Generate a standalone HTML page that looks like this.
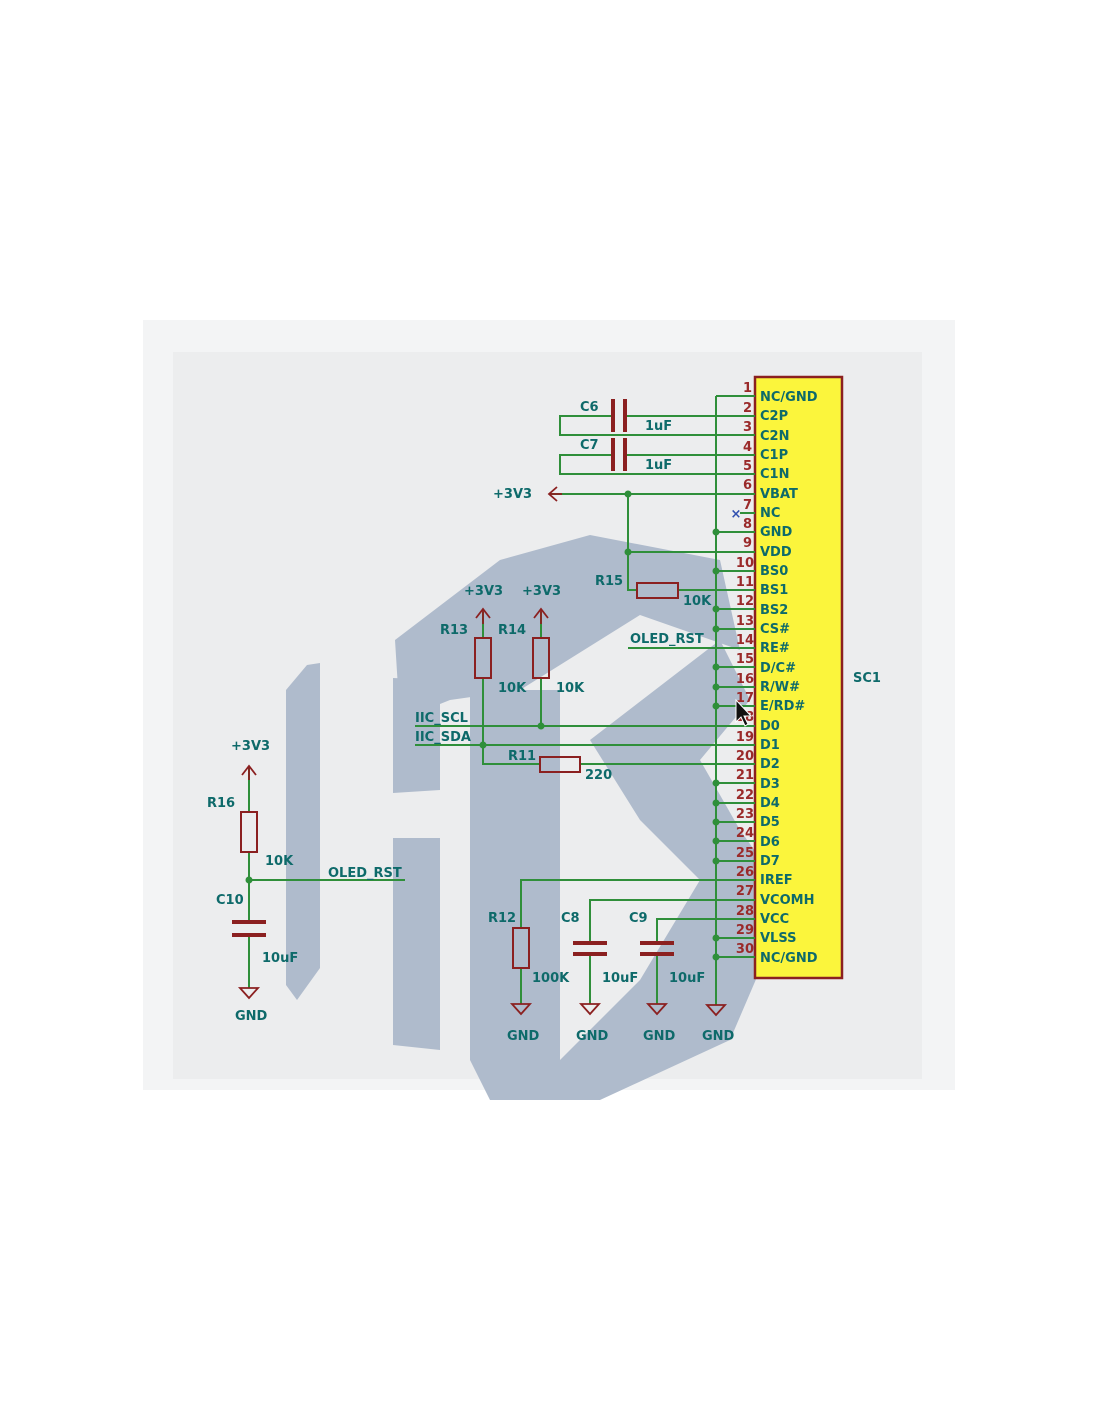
<!DOCTYPE html>
<html><head><style>
html,body{margin:0;padding:0;background:#fff;}
svg{display:block;}
text{font-family:"DejaVu Sans","Liberation Sans",sans-serif;font-size:13px;font-weight:bold;}
</style></head><body>
<svg width="1100" height="1422" viewBox="0 0 1100 1422" xmlns="http://www.w3.org/2000/svg">
<rect x="143" y="320" width="812" height="770" fill="#f3f4f5"/>
<rect x="173" y="352" width="749" height="727" fill="#ecedee"/>
<!-- watermark -->
<g fill="#afbbcc">
<polygon points="307,665 320,663 320,968 297,1000 286,985 286,690"/>
<polygon points="393,678 440,680 440,790 393,793"/>
<polygon points="393,838 440,838 440,1050 393,1045"/>
<polygon points="395,640 500,560 590,535 720,560 740,650 640,615 600,640 520,690 450,700 400,720"/>
<polygon points="470,690 560,690 560,1100 490,1100 470,1060"/>
<polygon points="590,740 720,640 750,700 700,760 740,830 790,900 730,1040 600,1100 520,1100 640,980 700,880 640,820"/>
</g>
<!-- IC body -->
<rect x="755" y="377" width="87" height="601" fill="#fbf53c" stroke="#8b2020" stroke-width="2.5"/>
<g stroke="#2f8f3a" stroke-width="2" fill="none">
<line x1="716" y1="396" x2="755" y2="396"/>
<line x1="716" y1="396" x2="716" y2="1005"/>
<line x1="716" y1="532" x2="755" y2="532"/>
<line x1="716" y1="571" x2="755" y2="571"/>
<line x1="716" y1="609" x2="755" y2="609"/>
<line x1="716" y1="629" x2="755" y2="629"/>
<line x1="716" y1="667" x2="755" y2="667"/>
<line x1="716" y1="687" x2="755" y2="687"/>
<line x1="716" y1="706" x2="755" y2="706"/>
<line x1="716" y1="783" x2="755" y2="783"/>
<line x1="716" y1="803" x2="755" y2="803"/>
<line x1="716" y1="822" x2="755" y2="822"/>
<line x1="716" y1="841" x2="755" y2="841"/>
<line x1="716" y1="861" x2="755" y2="861"/>
<line x1="716" y1="938" x2="755" y2="938"/>
<line x1="716" y1="957" x2="755" y2="957"/>
<line x1="740" y1="513" x2="755" y2="513"/>
<polyline points="612,416 560,416 560,435 755,435"/>
<line x1="624" y1="416" x2="755" y2="416"/>
<polyline points="612,455 560,455 560,474 755,474"/>
<line x1="624" y1="455" x2="755" y2="455"/>
<line x1="550" y1="494" x2="755" y2="494"/>
<polyline points="628,494 628,590 637,590"/>
<line x1="628" y1="552" x2="755" y2="552"/>
<line x1="678" y1="590" x2="755" y2="590"/>
<line x1="628" y1="648" x2="755" y2="648"/>
<line x1="415" y1="726" x2="755" y2="726"/>
<line x1="415" y1="745" x2="755" y2="745"/>
<line x1="541" y1="612" x2="541" y2="638"/>
<line x1="541" y1="678" x2="541" y2="726"/>
<line x1="483" y1="612" x2="483" y2="638"/>
<polyline points="483,678 483,764 540,764"/>
<line x1="580" y1="764" x2="755" y2="764"/>
<line x1="249" y1="768" x2="249" y2="812"/>
<line x1="249" y1="852" x2="249" y2="922"/>
<line x1="249" y1="935" x2="249" y2="988"/>
<line x1="249" y1="880" x2="405" y2="880"/>
<polyline points="755,880 521,880 521,928"/>
<line x1="521" y1="968" x2="521" y2="1004"/>
<polyline points="755,900 590,900 590,943"/>
<line x1="590" y1="954" x2="590" y2="1004"/>
<polyline points="755,919 657,919 657,943"/>
<line x1="657" y1="954" x2="657" y2="1004"/>
</g>
<g fill="#2f8f3a">
<circle cx="628" cy="494" r="3.5"/><circle cx="628" cy="552" r="3.5"/>
<circle cx="716" cy="532" r="3.5"/><circle cx="716" cy="571" r="3.5"/><circle cx="716" cy="609" r="3.5"/><circle cx="716" cy="629" r="3.5"/>
<circle cx="716" cy="667" r="3.5"/><circle cx="716" cy="687" r="3.5"/><circle cx="716" cy="706" r="3.5"/>
<circle cx="716" cy="783" r="3.5"/><circle cx="716" cy="803" r="3.5"/><circle cx="716" cy="822" r="3.5"/><circle cx="716" cy="841" r="3.5"/><circle cx="716" cy="861" r="3.5"/>
<circle cx="716" cy="938" r="3.5"/><circle cx="716" cy="957" r="3.5"/>
<circle cx="541" cy="726" r="3.5"/><circle cx="483" cy="745" r="3.5"/><circle cx="249" cy="880" r="3.5"/>
</g>
<g stroke="#8b2020" stroke-width="2" fill="none">
<rect x="637" y="583" width="41" height="15"/>
<rect x="540" y="757" width="40" height="15"/>
<rect x="475" y="638" width="16" height="40"/>
<rect x="533" y="638" width="16" height="40"/>
<rect x="241" y="812" width="16" height="40"/>
<rect x="513" y="928" width="16" height="40"/>
</g>
<g stroke="#8b2020" stroke-width="4">
<line x1="613" y1="399" x2="613" y2="432"/><line x1="625" y1="399" x2="625" y2="432"/>
<line x1="613" y1="438" x2="613" y2="471"/><line x1="625" y1="438" x2="625" y2="471"/>
<line x1="232" y1="922" x2="266" y2="922"/><line x1="232" y1="935" x2="266" y2="935"/>
<line x1="573" y1="943" x2="607" y2="943"/><line x1="573" y1="954" x2="607" y2="954"/>
<line x1="640" y1="943" x2="674" y2="943"/><line x1="640" y1="954" x2="674" y2="954"/>
</g>
<g stroke="#8b2020" stroke-width="1.8" fill="none">
<polyline points="557,487 549,494 557,501"/><line x1="549" y1="494" x2="562" y2="494"/>
<polyline points="476,618 483,609 490,618"/><line x1="483" y1="609" x2="483" y2="624"/>
<polyline points="534,618 541,609 548,618"/><line x1="541" y1="609" x2="541" y2="624"/>
<polyline points="242,775 249,766 256,775"/><line x1="249" y1="766" x2="249" y2="780"/>
<polygon points="240,988 258,988 249,998"/>
<polygon points="512,1004 530,1004 521,1014"/>
<polygon points="581,1004 599,1004 590,1014"/>
<polygon points="648,1004 666,1004 657,1014"/>
<polygon points="707,1005 725,1005 716,1015"/>
</g>
<text x="736" y="518" fill="#3050b0" font-size="16" text-anchor="middle">×</text>
<g fill="#9a2a2a" font-size="13" text-anchor="end">
<text x="752" y="392">1</text><text x="752" y="412">2</text><text x="752" y="431">3</text><text x="752" y="451">4</text><text x="752" y="470">5</text><text x="752" y="489">6</text><text x="752" y="509">7</text><text x="752" y="528">8</text><text x="752" y="547">9</text><text x="754" y="567">10</text><text x="754" y="586">11</text><text x="754" y="605">12</text><text x="754" y="625">13</text><text x="754" y="644">14</text><text x="754" y="663">15</text><text x="754" y="683">16</text><text x="754" y="702">17</text><text x="754" y="721">18</text><text x="754" y="741">19</text><text x="754" y="760">20</text><text x="754" y="779">21</text><text x="754" y="799">22</text><text x="754" y="818">23</text><text x="754" y="837">24</text><text x="754" y="857">25</text><text x="754" y="876">26</text><text x="754" y="895">27</text><text x="754" y="915">28</text><text x="754" y="934">29</text><text x="754" y="953">30</text>
</g>
<g fill="#0e6a6a" font-size="13">
<text x="760" y="401">NC/GND</text><text x="760" y="420">C2P</text><text x="760" y="440">C2N</text><text x="760" y="459">C1P</text><text x="760" y="478">C1N</text><text x="760" y="498">VBAT</text><text x="760" y="517">NC</text><text x="760" y="536">GND</text><text x="760" y="556">VDD</text><text x="760" y="575">BS0</text><text x="760" y="594">BS1</text><text x="760" y="614">BS2</text><text x="760" y="633">CS#</text><text x="760" y="652">RE#</text><text x="760" y="672">D/C#</text><text x="760" y="691">R/W#</text><text x="760" y="710">E/RD#</text><text x="760" y="730">D0</text><text x="760" y="749">D1</text><text x="760" y="768">D2</text><text x="760" y="788">D3</text><text x="760" y="807">D4</text><text x="760" y="826">D5</text><text x="760" y="846">D6</text><text x="760" y="865">D7</text><text x="760" y="884">IREF</text><text x="760" y="904">VCOMH</text><text x="760" y="923">VCC</text><text x="760" y="942">VLSS</text><text x="760" y="962">NC/GND</text>
<text x="853" y="682">SC1</text>
<text x="580" y="411">C6</text><text x="645" y="430">1uF</text>
<text x="580" y="449">C7</text><text x="645" y="469">1uF</text>
<text x="493" y="498">+3V3</text>
<text x="595" y="585">R15</text><text x="683" y="605">10K</text>
<text x="630" y="643">OLED_RST</text>
<text x="464" y="595">+3V3</text><text x="522" y="595">+3V3</text>
<text x="440" y="634">R13</text><text x="498" y="634">R14</text>
<text x="498" y="692">10K</text><text x="556" y="692">10K</text>
<text x="415" y="722">IIC_SCL</text><text x="415" y="741">IIC_SDA</text>
<text x="508" y="760">R11</text><text x="585" y="779">220</text>
<text x="231" y="750">+3V3</text><text x="207" y="807">R16</text><text x="265" y="865">10K</text>
<text x="328" y="877">OLED_RST</text><text x="216" y="904">C10</text><text x="262" y="962">10uF</text>
<text x="235" y="1020">GND</text>
<text x="488" y="922">R12</text><text x="532" y="982">100K</text>
<text x="561" y="922">C8</text><text x="602" y="982">10uF</text>
<text x="629" y="922">C9</text><text x="669" y="982">10uF</text>
<text x="507" y="1040">GND</text><text x="576" y="1040">GND</text><text x="643" y="1040">GND</text><text x="702" y="1040">GND</text>
</g>
<polygon points="736,700 736,722 741,717 745,726 748,724 744,716 751,716" fill="#111" stroke="#fff" stroke-width="1"/>
</svg>
</body></html>
